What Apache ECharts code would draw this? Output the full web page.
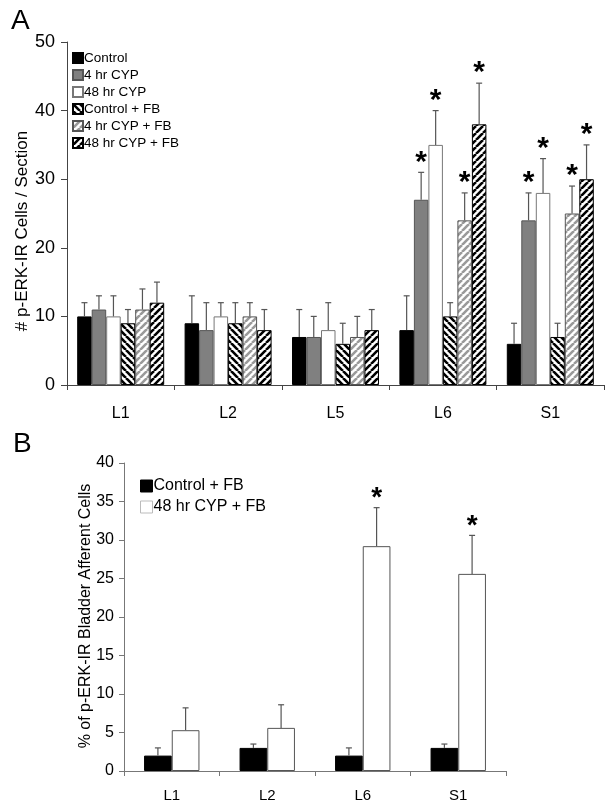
<!DOCTYPE html>
<html>
<head>
<meta charset="utf-8">
<script src="https://cdn.jsdelivr.net/npm/echarts@6/dist/echarts.min.js"></script>
<style>
html,body{margin:0;padding:0;background:#fff;}
#chart{width:614px;height:809px;}
</style>
</head>
<body>
<div id="chart"></div>
<script>
// ---------- Panel A data ----------
const catsA = ['L1', 'L2', 'L5', 'L6', 'S1'];
const namesA = ['Control', '4 hr CYP', '48 hr CYP', 'Control + FB', '4 hr CYP + FB', '48 hr CYP + FB'];
const controlA = [10, 9, 7, 8, 6];
const controlErrA = [2, 4, 4, 5, 3];
const cyp4A = [11, 8, 7, 27, 24];
const cyp4ErrA = [2, 4, 3, 4, 4];
const cyp48A = [10, 10, 8, 35, 28];
const cyp48ErrA = [3, 2, 4, 5, 5];
const controlFbA = [9, 9, 6, 10, 7];
const controlFbErrA = [2, 3, 3, 2, 2];
const cyp4FbA = [11, 10, 7, 24, 25];
const cyp4FbErrA = [3, 2, 3, 4, 4];
const cyp48FbA = [12, 8, 8, 38, 30];
const cyp48FbErrA = [3, 3, 3, 6, 5];
const sigControlA = [0, 0, 0, 0, 0];
const sigCyp4A = [0, 0, 0, 1, 1];
const sigCyp48A = [0, 0, 0, 1, 1];
const sigControlFbA = [0, 0, 0, 0, 0];
const sigCyp4FbA = [0, 0, 0, 1, 1];
const sigCyp48FbA = [0, 0, 0, 1, 1];
const ticksA = [0, 10, 20, 30, 40, 50];
const yTitleA = '# p-ERK-IR Cells / Section';

// ---------- Panel B data ----------
const catsB = ['L1', 'L2', 'L6', 'S1'];
const namesB = ['Control + FB', '48 hr CYP + FB'];
const controlFbB = [2, 3, 2, 3];
const controlFbErrB = [1, 0.5, 1, 0.5];
const cyp48FbB = [5.3, 5.6, 29.2, 25.6];
const cyp48FbErrB = [2.9, 3.0, 5.0, 5.0];
const sigControlFbB = [0, 0, 0, 0];
const sigCyp48FbB = [0, 0, 1, 1];
const ticksB = [0, 5, 10, 15, 20, 25, 30, 35, 40];
const yTitleB = '% of p-ERK-IR Bladder Afferent Cells';

// ---------- patterns ----------
function stripe(color, dir, p, w) {
  const c = document.createElement('canvas');
  c.width = p; c.height = p;
  const ctx = c.getContext('2d');
  ctx.fillStyle = '#fff';
  ctx.fillRect(0, 0, p, p);
  ctx.strokeStyle = color;
  ctx.lineWidth = w;
  ctx.beginPath();
  for (const k of [-p, 0, p]) {
    if (dir === '/') { ctx.moveTo(k, p); ctx.lineTo(k + p, 0); }
    else { ctx.moveTo(k, 0); ctx.lineTo(k + p, p); }
  }
  ctx.stroke();
  return { image: c, repeat: 'repeat' };
}

const FONT = 'Liberation Sans, Arial, sans-serif';

const stylesA = [
  { color: '#000000', borderColor: '#000000', borderWidth: 1 },
  { color: '#808080', borderColor: '#555555', borderWidth: 1 },
  { color: '#ffffff', borderColor: '#777777', borderWidth: 1 },
  { color: stripe('#000', '\\', 7, 2.6), borderColor: '#000000', borderWidth: 1 },
  { color: stripe('#9a9a9a', '/', 7, 2.6), borderColor: '#555555', borderWidth: 1 },
  { color: stripe('#000', '/', 7, 2.6), borderColor: '#000000', borderWidth: 1 }
];
const valsA = [controlA, cyp4A, cyp48A, controlFbA, cyp4FbA, cyp48FbA];
const errsA = [controlErrA, cyp4ErrA, cyp48ErrA, controlFbErrA, cyp4FbErrA, cyp48FbErrA];
const sigsA = [sigControlA, sigCyp4A, sigCyp48A, sigControlFbA, sigCyp4FbA, sigCyp48FbA];

const stylesB = [
  { color: '#000000', borderColor: '#000000', borderWidth: 1 },
  { color: '#ffffff', borderColor: '#555555', borderWidth: 1 }
];
const legendStylesB = [
  { color: '#000000', borderColor: '#000000', borderWidth: 1 },
  { color: '#ffffff', borderColor: '#bbbbbb', borderWidth: 1 }
];
const valsB = [controlFbB, cyp48FbB];
const errsB = [controlFbErrB, cyp48FbErrB];
const sigsB = [sigControlFbB, sigCyp48FbB];

const GAP_A = 0.19, GAP_B = 0.42;

function errRender(n, idx, gap, cap, starFont, starOff) {
  return function (params, api) {
    const x = api.value(0), v = api.value(1), e = api.value(2), sig = api.value(3);
    const base = api.coord([x, v]);
    const top = api.coord([x, v + e]);
    const band = api.size([1, 0])[0];
    const group = band * (1 - gap);
    const bw = group / n;
    const cx = base[0] - group / 2 + (idx + 0.5) * bw;
    const lineStyle = { stroke: '#555', lineWidth: 1.2 };
    const children = [
      { type: 'line', shape: { x1: cx, y1: base[1], x2: cx, y2: top[1] }, style: lineStyle },
      { type: 'line', shape: { x1: cx - cap, y1: top[1], x2: cx + cap, y2: top[1] }, style: lineStyle }
    ];
    if (sig) {
      children.push({
        type: 'text',
        style: { text: '*', x: cx, y: top[1] - starOff, align: 'center', verticalAlign: 'middle', font: starFont, fill: '#000' }
      });
    }
    return { type: 'group', children: children };
  };
}

const series = [];
namesA.forEach((nm, i) => {
  series.push({
    name: nm, type: 'bar', xAxisIndex: 0, yAxisIndex: 0,
    data: valsA[i], itemStyle: stylesA[i],
    barGap: '0%', barCategoryGap: (GAP_A * 100) + '%',
    emphasis: { disabled: true }
  });
});
namesA.forEach((nm, i) => {
  series.push({
    name: nm + ' err', type: 'custom', xAxisIndex: 0, yAxisIndex: 0, z: 5,
    data: catsA.map((c, j) => [j, valsA[i][j], errsA[i][j], sigsA[i][j]]),
    renderItem: errRender(6, i, GAP_A, 3, 'bold 30px ' + FONT, 10),
    encode: { x: 0, y: 1 }, silent: true
  });
});
namesB.forEach((nm, i) => {
  series.push({
    name: nm, type: 'bar', xAxisIndex: 1, yAxisIndex: 1,
    data: valsB[i], itemStyle: stylesB[i],
    barGap: '0%', barCategoryGap: (GAP_B * 100) + '%',
    emphasis: { disabled: true }
  });
});
namesB.forEach((nm, i) => {
  series.push({
    name: nm + ' errB', type: 'custom', xAxisIndex: 1, yAxisIndex: 1, z: 5,
    data: catsB.map((c, j) => [j, valsB[i][j], errsB[i][j], sigsB[i][j]]),
    renderItem: errRender(2, i, GAP_B, 3, 'bold 28px ' + FONT, 9),
    encode: { x: 0, y: 1 }, silent: true
  });
});

const axisLineA = { show: true, lineStyle: { color: '#444', width: 1 } };
const axisLineB = { show: true, lineStyle: { color: '#777', width: 1 } };

const option = {
  backgroundColor: '#fff',
  animation: false,
  textStyle: { fontFamily: FONT },
  title: [
    { text: 'A', left: 6, top: 2, textStyle: { fontSize: 28, fontWeight: 'normal', color: '#000', fontFamily: FONT } },
    { text: 'B', left: 8, top: 425, textStyle: { fontSize: 28, fontWeight: 'normal', color: '#000', fontFamily: FONT } }
  ],
  graphic: [
    { type: 'text', x: 22, y: 231, rotation: Math.PI / 2, silent: true,
      style: { text: yTitleA, align: 'center', verticalAlign: 'middle', font: '17px ' + FONT, fill: '#000' } },
    { type: 'text', x: 86, y: 616, rotation: Math.PI / 2, silent: true,
      style: { text: yTitleB, align: 'center', verticalAlign: 'middle', font: '16px ' + FONT, fill: '#000' } }
  ],
  legend: [
    {
      data: namesA, orient: 'vertical', left: 72, top: 51, padding: 0,
      itemWidth: 10, itemHeight: 10, itemGap: 3,
      icon: 'rect', selectedMode: false,
      textStyle: { fontSize: 13.5, color: '#000', fontFamily: FONT, padding: [0, 0, 0, -4] }
    },
    {
      data: namesB.map((nm, i) => ({ name: nm, itemStyle: legendStylesB[i] })),
      orient: 'vertical', left: 140, top: 478, padding: 0,
      itemWidth: 12, itemHeight: 12, itemGap: 5,
      icon: 'rect', selectedMode: false,
      textStyle: { fontSize: 16, color: '#000', fontFamily: FONT, padding: [0, 0, 0, -4] }
    }
  ],
  grid: [
    { left: 67, top: 42, width: 537, height: 343 },
    { left: 124, top: 463, width: 382, height: 308 }
  ],
  xAxis: [
    {
      type: 'category', gridIndex: 0, data: catsA,
      axisLine: axisLineA,
      axisTick: { show: true, length: 5, lineStyle: { color: '#444' } },
      axisLabel: { fontSize: 16, color: '#000', margin: 21, fontFamily: FONT }
    },
    {
      type: 'category', gridIndex: 1, data: catsB,
      axisLine: axisLineB,
      axisTick: { show: true, length: 5, lineStyle: { color: '#777' } },
      axisLabel: { fontSize: 15, color: '#000', margin: 17, fontFamily: FONT }
    }
  ],
  yAxis: [
    {
      type: 'value', gridIndex: 0, min: ticksA[0], max: ticksA[ticksA.length - 1], interval: ticksA[1] - ticksA[0],
      axisLine: axisLineA,
      axisTick: { show: true, length: 6, lineStyle: { color: '#444' } },
      splitLine: { show: false },
      axisLabel: { fontSize: 18, color: '#000', margin: 12, fontFamily: FONT }
    },
    {
      type: 'value', gridIndex: 1, min: ticksB[0], max: ticksB[ticksB.length - 1], interval: ticksB[1] - ticksB[0],
      axisLine: axisLineB,
      axisTick: { show: true, length: 5, lineStyle: { color: '#777' } },
      splitLine: { show: false },
      axisLabel: { fontSize: 16, color: '#000', margin: 10, fontFamily: FONT }
    }
  ],
  series: series
};

const chart = echarts.init(document.getElementById('chart'), null, { renderer: 'canvas' });
chart.setOption(option);
</script>
</body>
</html>
